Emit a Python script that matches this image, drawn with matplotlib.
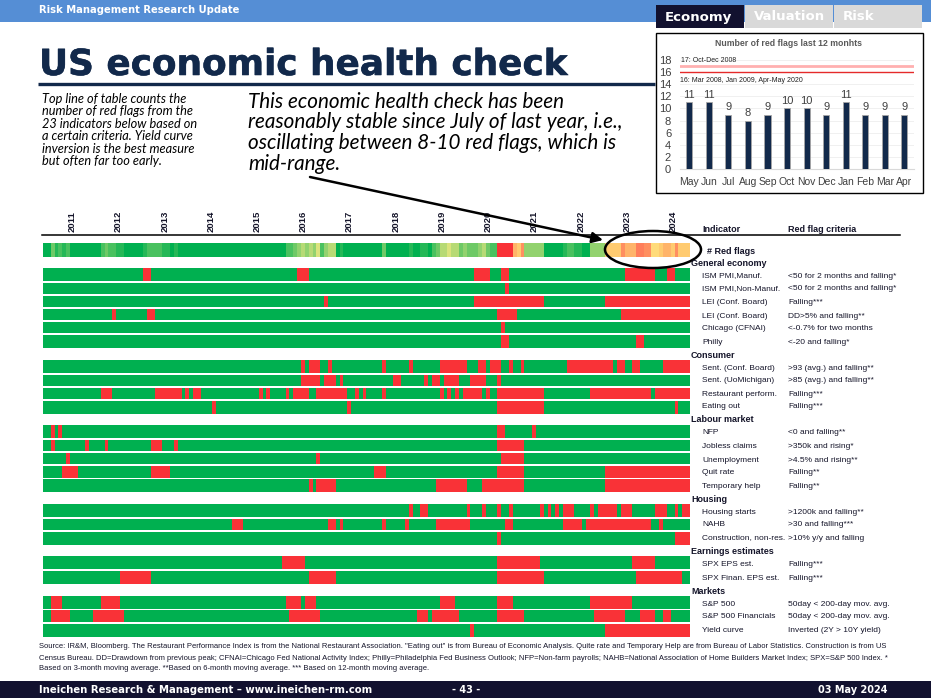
import numpy as np
import matplotlib
matplotlib.use('Agg')
import matplotlib.pyplot as plt
import matplotlib.patheffects as pe
from matplotlib.colors import ListedColormap, LinearSegmentedColormap
from matplotlib.patches import Rectangle, Ellipse

plt.rcParams['font.family'] = ['Liberation Sans', 'DejaVu Sans']
HEAVY = ['DejaVu Sans']
HAND = ['Lato', 'DejaVu Sans']

# months are counted from May 2010 (0) to Apr 2024 (167), spans are start, end (end excluded)
n_months = 168
year_labels = [str(y) for y in range(2011, 2025)]
year_months = [8 + 12 * i for i in range(14)]

red_flag_count = [0, 0, 3, 1, 2, 1, 2, 0,                                  # May-Dec 2010
                  0, 0, 0, 0, 0, 0, 0, 2, 3, 2, 2, 1,                      # 2011
                  1, 0, 0, 0, 0, 0, 1, 2, 2, 2, 2, 1,                      # 2012
                  1, 0, 1, 0, 0, 0, 0, 0, 0, 0, 0, 0,                      # 2013
                  0, 0, 0, 0, 0, 0, 0, 0, 0, 0, 0, 0,                      # 2014
                  0, 0, 0, 0, 0, 0, 0, 2, 2, 3, 4, 5,                      # 2015
                  4, 5, 4, 6, 2, 4, 5, 5, 0, 1, 0, 0,                      # 2016-17
                  0, 0, 0, 0, 0, 0, 0, 0, 3, 0, 0, 0,
                  0, 0, 0, 1, 0, 0, 1, 1, 0, 2, 3, 5,                      # 2018
                  5, 6, 5, 5, 3, 4, 3, 3, 3, 4, 5, 3,                      # 2019
                  2, 2, 16, 16, 16, 16, 10, 9, 11, 4, 4, 4,                # 2020
                  4, 4, 0, 0, 0, 0, 0, 1, 2, 2, 1, 1,                      # 2021
                  0, 0, 4, 4, 4, 4, 9, 9, 9, 9, 11, 10,                    # 2022
                  10, 10, 12, 12, 11, 11, 8, 8, 9, 10, 10, 9,              # 2023
                  11, 9, 9, 9]                                             # 2024

ism_manuf = [(26, 28), (66, 69), (112, 116), (119, 121), (151, 159), (162, 164)]
ism_nonmanuf = [(120, 121)]
lei_falling = [(73, 74), (112, 130), (146, 168)]
lei_dd = [(18, 19), (27, 29), (118, 123), (150, 168)]
chicago = [(119, 120)]
philly = [(119, 121), (154, 156)]
sent_conf = [(67, 68), (69, 72), (74, 75), (88, 89), (95, 96), (103, 110), (113, 115), (116, 119),
             (121, 122), (124, 125), (136, 148), (149, 151), (153, 155), (161, 168)]
sent_uom = [(67, 72), (73, 76), (77, 78), (91, 93), (99, 100), (101, 103), (104, 108), (111, 115), (118, 119)]
restaurant = [(15, 18), (29, 36), (37, 38), (39, 41), (56, 57), (58, 59), (63, 64), (65, 69), (71, 79),
              (81, 82), (83, 84), (88, 89), (103, 104), (105, 106), (107, 108), (109, 114), (115, 116),
              (118, 130), (142, 158), (159, 168)]
eating_out = [(44, 45), (79, 80), (118, 130), (164, 165)]
nfp = [(2, 3), (4, 5), (118, 120), (127, 128)]
jobless = [(2, 3), (11, 12), (16, 17), (28, 31), (34, 35), (118, 125)]
unemployment = [(6, 7), (71, 72), (119, 125)]
quit_rate = [(5, 9), (28, 33), (86, 89), (118, 125), (146, 168)]
temp_help = [(69, 70), (71, 76), (102, 110), (114, 125), (146, 168)]
housing_starts = [(95, 96), (98, 100), (110, 111), (114, 115), (118, 119), (121, 122), (129, 130), (131, 132),
                  (133, 134), (135, 138), (142, 143), (144, 149), (150, 153), (159, 162), (164, 165), (166, 168)]
nahb = [(49, 52), (74, 76), (77, 78), (88, 89), (94, 95), (102, 111), (120, 122), (135, 140), (141, 158), (160, 161)]
construction = [(118, 119), (164, 168)]
spx_eps = [(62, 68), (118, 129), (153, 159)]
spx_fin_eps = [(20, 28), (69, 76), (118, 130), (154, 166)]
sp500 = [(2, 5), (15, 20), (63, 67), (68, 71), (103, 107), (118, 122), (142, 153)]
sp500_fin = [(2, 7), (13, 21), (64, 72), (97, 100), (101, 108), (118, 125), (143, 151), (155, 159), (161, 163)]
yield_curve = [(111, 112), (146, 168)]

bar_months = ['May', 'Jun', 'Jul', 'Aug', 'Sep', 'Oct', 'Nov', 'Dec', 'Jan', 'Feb', 'Mar', 'Apr']
bar_flags = [11, 11, 9, 8, 9, 10, 10, 9, 11, 9, 9, 9]

# name, criteria, spans, top px, bottom px, label y px
rows = [
    ('ISM PMI,Manuf.', '<50 for 2 months and falling*', ism_manuf, 268, 281, 276),
    ('ISM PMI,Non-Manuf.', '<50 for 2 months and falling*', ism_nonmanuf, 283, 294, 289),
    ('LEI (Conf. Board)', 'Falling***', lei_falling, 296, 307, 302),
    ('LEI (Conf. Board)', 'DD>5% and falling**', lei_dd, 309, 320, 316),
    ('Chicago (CFNAI)', '<-0.7% for two months', chicago, 322, 333, 329),
    ('Philly', '<-20 and falling*', philly, 335, 348, 342),
    ('Sent. (Conf. Board)', '>93 (avg.) and falling**', sent_conf, 360, 373, 368),
    ('Sent. (UoMichigan)', '>85 (avg.) and falling**', sent_uom, 375, 386, 381),
    ('Restaurant perform.', 'Falling***', restaurant, 388, 399, 394),
    ('Eating out', 'Falling***', eating_out, 401, 414, 407),
    ('NFP', '<0 and falling**', nfp, 425, 438, 433),
    ('Jobless claims', '>350k and rising*', jobless, 440, 451, 447),
    ('Unemployment', '>4.5% and rising**', unemployment, 453, 464, 460),
    ('Quit rate', 'Falling**', quit_rate, 466, 478, 473),
    ('Temporary help', 'Falling**', temp_help, 479, 492, 486),
    ('Housing starts', '>1200k and falling**', housing_starts, 504, 517, 512),
    ('NAHB', '>30 and falling***', nahb, 519, 530, 525),
    ('Construction, non-res.', '>10% y/y and falling', construction, 532, 545, 538),
    ('SPX EPS est.', 'Falling***', spx_eps, 556, 569, 565),
    ('SPX Finan. EPS est.', 'Falling***', spx_fin_eps, 571, 584, 578),
    ('S&P 500', '50day < 200-day mov. avg.', sp500, 596, 609, 604),
    ('S&P 500 Financials', '50day < 200-day mov. avg.', sp500_fin, 610, 622, 617),
    ('Yield curve', 'Inverted (2Y > 10Y yield)', yield_curve, 624, 637, 630),
]
group_labels = [('General economy', 263), ('Consumer', 355), ('Labour market', 419),
                ('Housing', 499), ('Earnings estimates', 551), ('Markets', 591)]

navy = '#12294B'
footer_col = '#12112F'
text_col = '#15152A'
green = '#00B050'
red = '#F93237'

fig = plt.figure(figsize=(9.31, 6.98), dpi=100)

# table of flags, x in months and y in page pixels
ax = fig.add_axes([43 / 931, 0, 647 / 931, 1 - 235 / 698], zorder=1)
ax.set_xlim(0, n_months)
ax.set_ylim(698, 235)
edges = np.arange(n_months + 1)
flag_cmap = ListedColormap([green, red])
for name, crit, spans, top, bottom, ly in rows:
    vals = np.zeros(n_months)
    for a, b in spans:
        vals[a:b] = 1
    ax.pcolormesh(edges, [top, bottom], vals[None, :], cmap=flag_cmap, vmin=0, vmax=1, antialiased=False)

# same colour scale as the sheet: green, yellow, red
count_cmap = LinearSegmentedColormap.from_list('flags', [(0, green), (7 / 16, '#FFEB84'), (9 / 16, '#FFCC70'),
                                                         (10 / 16, '#FFB56A'), (11 / 16, '#FF9060'),
                                                         (12 / 16, '#FF7F5B'), (1, red)])
ax.pcolormesh(edges, [243, 257], np.array(red_flag_count)[None, :], cmap=count_cmap, vmin=0, vmax=16, antialiased=False)

ax.xaxis.tick_top()
ax.set_xticks([m - 0.4 for m in year_months])
ax.set_xticklabels(year_labels, rotation=90, fontsize=6.8, fontweight='bold', color=text_col)
ax.tick_params(axis='x', length=0, pad=2)
ax.set_yticks([])
for s in ax.spines.values():
    s.set_visible(False)

# page layer in pixels
page = fig.add_axes([0, 0, 1, 1], zorder=2)
page.set_xlim(0, 931)
page.set_ylim(698, 0)
page.axis('off')
page.patch.set_alpha(0)

page.add_patch(Rectangle((0, 0), 931, 22, color='#558ED5', lw=0))
page.add_patch(Rectangle((0, 681), 931, 17, color=footer_col, lw=0))
page.text(39, 10, 'Risk Management Research Update', color='white', fontsize=7.2, family=HEAVY, fontweight='bold',
          va='center')
page.text(39, 690, 'Ineichen Research & Management \u2013 www.ineichen-rm.com', color='white', fontsize=7.3,
          family=HEAVY, fontweight='bold', va='center')
page.text(466, 690, '- 43 -', color='white', fontsize=7, family=HEAVY, fontweight='bold', va='center', ha='center')
page.text(888, 690, '03 May 2024', color='white', fontsize=7, family=HEAVY, fontweight='bold', va='center', ha='right')

title = page.text(39, 65, 'US economic health check', color=navy, fontsize=25.8, family=HEAVY, fontweight='bold',
                  va='center')
title.set_path_effects([pe.withStroke(linewidth=0.4, foreground=navy)])
page.plot([38, 655], [84, 84], color=navy, lw=2.4, solid_capstyle='butt')

# tabs
for x0, w, col, label in [(656, 88, footer_col, 'Economy'), (745, 88, '#D9D9D9', 'Valuation'), (834, 88, '#D9D9D9', 'Risk')]:
    page.add_patch(Rectangle((x0, 5), w, 23, color=col, lw=0))
    page.text(x0 + 9, 17, label, color='white', fontsize=9.5, family=HEAVY, fontweight='bold', va='center')
page.add_patch(Rectangle((655.5, 32.5), 267, 160, facecolor='white', edgecolor='black', lw=1))

small_note = ['Top line of table counts the', 'number of red flags from the', '23 indicators below based on',
              'a certain criteria. Yield curve', 'inversion is the best measure', 'but often far too early.']
for i, line in enumerate(small_note):
    page.text(42, 99 + i * 12.4, line, fontsize=9.2, family=HAND, style='italic', va='center', color='black')
big_note = ['This economic health check has been', 'reasonably stable since July of last year, i.e.,',
            'oscillating between 8-10 red flags, which is', 'mid-range.']
for i, line in enumerate(big_note):
    page.text(248, 102 + i * 20.5, line, fontsize=14.9, family=HAND, style='italic', va='center', color='black')

page.plot([42, 900], [235, 235], color='black', lw=1.1)
page.text(702, 230, 'Indicator', fontsize=6.5, fontweight='bold', va='center', color=text_col)
page.text(788, 230, 'Red flag criteria', fontsize=6.5, fontweight='bold', va='center', color=text_col)
page.text(707, 251, '# Red flags', fontsize=6.5, fontweight='bold', va='center', color=text_col)
for label, y in group_labels:
    page.text(691, y, label, fontsize=6.5, fontweight='bold', va='center', color=text_col)
for name, crit, spans, top, bottom, ly in rows:
    page.text(702, ly, name, fontsize=6, va='center', color=text_col)
    page.text(788, ly, crit, fontsize=6, va='center', color=text_col)

source = ['Source: IR&M, Bloomberg. The Restaurant Performance Index is from the National Restaurant Association. '
          '"Eating out" is from Bureau of Economic Analysis. Quite rate and Temporary Help are from Bureau of Labor '
          'Statistics. Construction is from US',
          'Census Bureau. DD=Drawdown from previous peak; CFNAI=Chicago Fed National Activity Index; '
          'Philly=Philadelphia Fed Business Outlook; NFP=Non-farm payrolls; NAHB=National Association of Home '
          'Builders Market Index; SPX=S&P 500 Index. *',
          'Based on 3-month moving average. **Based on 6-month moving average. *** Based on 12-month moving average.']
for i, line in enumerate(source):
    page.text(39, 647 + i * 11, line, fontsize=5.5, va='center', color=text_col)

page.annotate('', xy=(603, 240), xytext=(310, 177),
              arrowprops=dict(arrowstyle='-|>', color='black', lw=1.8, mutation_scale=16, shrinkA=0, shrinkB=0))
page.add_patch(Ellipse((653, 249.5), 96, 37, fill=False, edgecolor='black', lw=1.8))

# small chart, last 12 months
ins = fig.add_axes([679.5 / 931, 1 - 169 / 698, 234.6 / 931, 109 / 698], zorder=3)
ins.patch.set_alpha(0)
pos = np.arange(12)
ins.bar(pos, bar_flags, width=0.31, color=navy, edgecolor='#A6A6A6', lw=0.6, zorder=3)
for p, v in zip(pos, bar_flags):
    ins.text(p, v + 0.4, str(v), ha='center', va='bottom', fontsize=8, color='#404040')
ins.axhline(17, color='#FFB0B0', lw=2, zorder=2)
ins.axhline(16, color='#E52A2A', lw=1, zorder=2)
ins.text(-0.42, 17.85, '17: Oct-Dec 2008', fontsize=5, color='#222222', va='center')
ins.text(-0.48, 14.55, '16: Mar 2008, Jan 2009, Apr-May 2020', fontsize=5, color='#222222', va='center')
ins.set_xlim(-0.5, 11.5)
ins.set_ylim(0, 18)
ins.set_yticks(range(0, 19, 2))
ins.set_xticks(pos)
ins.set_xticklabels(bar_months, fontsize=7.5, color='#404040')
ins.tick_params(axis='y', labelsize=8, length=0, pad=6, labelcolor='#404040')
ins.tick_params(axis='x', length=0, pad=6)
ins.grid(axis='y', color='#F0F0F0', lw=0.7, zorder=0)
ins.set_axisbelow(True)
for s in ['top', 'left', 'right']:
    ins.spines[s].set_visible(False)
ins.spines['bottom'].set_color('#D9D9D9')
page.text(788.5, 44, 'Number of red flags last 12 monhts', fontsize=6.3, fontweight='bold',
          ha='center', va='center', color='#595959')

fig.savefig('out.png', dpi=100)
